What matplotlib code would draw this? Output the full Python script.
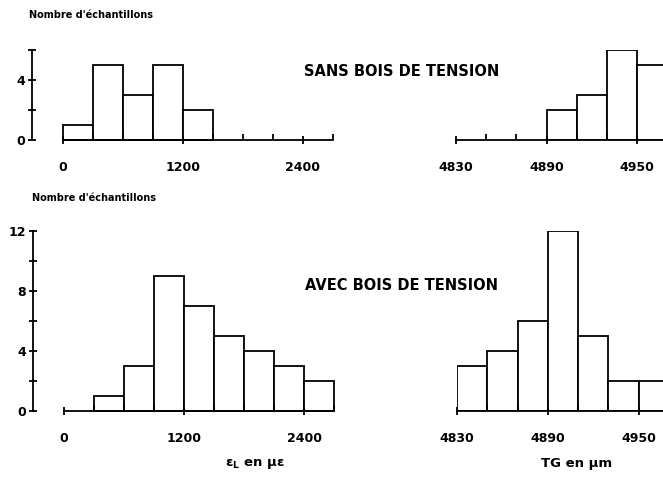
import matplotlib
matplotlib.use("Agg")
import matplotlib.pyplot as plt
from matplotlib.ticker import MultipleLocator, FixedLocator

# histogram data
eps_bin_left = [0, 300, 600, 900, 1200, 1500, 1800, 2100, 2400]
eps_bin_width = 300
sans_eps_counts = [1, 5, 3, 5, 2, 0, 0, 0, 0]
avec_eps_counts = [0, 1, 3, 9, 7, 5, 4, 3, 2]

tg_bin_left = [4830, 4850, 4870, 4890, 4910, 4930, 4950]
tg_bin_width = 20
sans_tg_counts = [0, 0, 0, 2, 3, 6, 5]
avec_tg_counts = [3, 4, 6, 12, 5, 2, 2]

eps_ticks = [0, 1200, 2400]
tg_ticks = [4830, 4890, 4950]

plt.rcParams['font.family'] = 'DejaVu Sans'
plt.rcParams['font.weight'] = 'bold'

W, H = 663, 479
fig = plt.figure(figsize=(W / 100, H / 100), dpi=100)


def px_axes(left, top, right, bottom):
    return fig.add_axes([left / W, 1 - bottom / H, (right - left) / W, (bottom - top) / H])


def draw_hist(ax, lefts, counts, width, clip):
    for x, c in zip(lefts, counts):
        if c > 0:
            ax.bar(x, c, width=width, align='edge', facecolor='white',
                   edgecolor='black', linewidth=1.3, clip_on=clip)


def style_x(ax, ticks, minor, lo, hi):
    for s in ['top', 'right']:
        ax.spines[s].set_visible(False)
    ax.spines['bottom'].set_linewidth(1.3)
    ax.spines['bottom'].set_bounds(lo, hi)
    ax.xaxis.set_major_locator(FixedLocator(ticks))
    ax.xaxis.set_minor_locator(FixedLocator(minor))
    ax.tick_params(axis='x', which='major', direction='inout', length=6,
                   width=1.3, pad=12, labelsize=9)
    ax.tick_params(axis='x', which='minor', direction='in', length=4, width=1.3)


def style_y(ax, top, show):
    if show:
        ax.spines['left'].set_linewidth(1.3)
        ax.spines['left'].set_bounds(0, top)
        ax.yaxis.set_major_locator(MultipleLocator(4))
        ax.yaxis.set_minor_locator(MultipleLocator(2))
        ax.tick_params(axis='y', which='both', direction='inout', length=6,
                       width=1.3, pad=2, labelsize=9)
    else:
        ax.spines['left'].set_visible(False)
        ax.set_yticks([])


eps_minor = eps_bin_left + [eps_bin_left[-1] + eps_bin_width]
tg_minor = tg_bin_left

# SANS bois de tension
ax1 = px_axes(32, 50, 336, 140)
draw_hist(ax1, eps_bin_left, sans_eps_counts, eps_bin_width, False)
ax1.set_xlim(-310, 2730)
ax1.set_ylim(0, 6)
style_x(ax1, eps_ticks, eps_minor, 0, 2700)
style_y(ax1, 6, True)

ax2 = px_axes(456, 50, 663, 140)
draw_hist(ax2, tg_bin_left, sans_tg_counts, tg_bin_width, True)
ax2.set_xlim(4830, 4967)
ax2.set_ylim(0, 6)
style_x(ax2, tg_ticks, tg_minor, 4830, 4967)
style_y(ax2, 6, False)

# AVEC bois de tension
ax3 = px_axes(33, 231, 337, 411)
draw_hist(ax3, eps_bin_left, avec_eps_counts, eps_bin_width, False)
ax3.set_xlim(-310, 2730)
ax3.set_ylim(0, 12)
style_x(ax3, eps_ticks, eps_minor, 0, 2700)
style_y(ax3, 12, True)

ax4 = px_axes(457, 231, 663, 411)
draw_hist(ax4, tg_bin_left, avec_tg_counts, tg_bin_width, True)
ax4.set_xlim(4830, 4966)
ax4.set_ylim(0, 12)
style_x(ax4, tg_ticks, tg_minor, 4830, 4966)
style_y(ax4, 12, False)


def ftext(x, y, s, **kw):
    fig.text(x / W, 1 - y / H, s, **kw)


ftext(29, 15, "Nombre d'échantillons", fontsize=7, ha='left', va='center')
ftext(32, 198, "Nombre d'échantillons", fontsize=7, ha='left', va='center')
ftext(402, 72, "SANS BOIS DE TENSION", fontsize=10.5, ha='center', va='center')
ftext(402, 286, "AVEC BOIS DE TENSION", fontsize=10.5, ha='center', va='center')
ftext(255, 464, r"ε$_\mathbf{L}$ en με", fontsize=9.5, ha='center', va='center')
ftext(577, 464, "TG en µm", fontsize=9.5, ha='center', va='center')

fig.savefig("out.png", dpi=100)
